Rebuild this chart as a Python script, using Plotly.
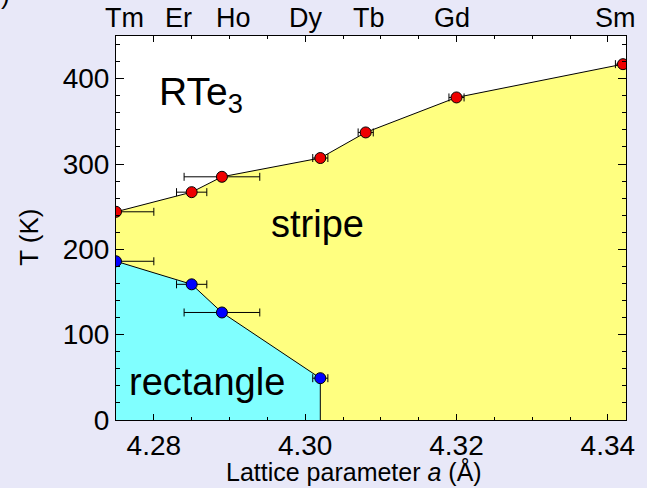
import plotly.graph_objects as go

# Rare-earth tritellurides RTe3: in-plane lattice parameter and CDW transition temperatures
rare_earth = ["Tm", "Er", "Ho", "Dy", "Tb", "Gd", "Sm"]
lattice_a = [4.275, 4.285, 4.289, 4.302, 4.308, 4.320, 4.342]
lattice_err = [0.005, 0.002, 0.005, 0.001, 0.001, 0.001, 0.001]
t_stripe = [244, 267, 285, 307, 337, 378, 417]      # upper transition (Tc1)
t_rect = [186, 159, 126, 49]                        # lower transition (Tc2), Tm..Dy
label_a = [4.2761, 4.2832, 4.2905, 4.3000, 4.3085, 4.3194, 4.3410]  # element label anchors

x_ticks = [4.28, 4.30, 4.32, 4.34]
y_ticks = [0, 100, 200, 300, 400]

A_MIN, A_MAX = 4.275, 4.3424
T_MAX = 450
FONT = "Liberation Sans, Arial, sans-serif"

n_rect = len(t_rect)

fig = go.Figure()

# stripe phase: everything below the upper transition line
fig.add_trace(go.Scatter(
    x=lattice_a + [A_MAX, A_MAX, A_MIN],
    y=t_stripe + [t_stripe[-1], 0, 0],
    fill="toself", fillcolor="#FFFF80", mode="none", hoverinfo="skip",
))

# rectangle phase: below the lower transition line, ending at Dy
fig.add_trace(go.Scatter(
    x=lattice_a[:n_rect] + [lattice_a[n_rect - 1], A_MIN],
    y=t_rect + [0, 0],
    fill="toself", fillcolor="#80FFFF", mode="none", hoverinfo="skip",
))

# phase boundaries
fig.add_trace(go.Scatter(
    x=lattice_a, y=t_stripe, mode="lines",
    line=dict(color="black", width=1), hoverinfo="skip",
))
fig.add_trace(go.Scatter(
    x=lattice_a[:n_rect] + [lattice_a[n_rect - 1]], y=t_rect + [0], mode="lines",
    line=dict(color="black", width=1), hoverinfo="skip",
))

# measured transitions with lattice-parameter uncertainty
err_style = dict(type="data", symmetric=True, color="black", thickness=1, width=4)
fig.add_trace(go.Scatter(
    x=lattice_a, y=t_stripe, mode="markers",
    marker=dict(size=11, color="#EE0000", line=dict(color="black", width=1)),
    error_x=dict(array=lattice_err, **err_style),
))
fig.add_trace(go.Scatter(
    x=lattice_a[:n_rect], y=t_rect, mode="markers",
    marker=dict(size=11, color="#0000FF", line=dict(color="black", width=1)),
    error_x=dict(array=lattice_err[:n_rect], **err_style),
))

annotations = []
# element names along the top
for name, xa in zip(rare_earth, label_a):
    annotations.append(dict(
        x=xa, xref="x", y=1.047, yref="paper", text=name, showarrow=False,
        xanchor="center", yanchor="middle", font=dict(size=27, color="black", family=FONT),
    ))

# phase labels
annotations += [
    dict(x=4.2804, y=381, xref="x", yref="y", text="RTe<sub>3</sub>", showarrow=False,
         xanchor="left", yanchor="middle", font=dict(size=39, color="black", family=FONT)),
    dict(x=4.2952, y=230, xref="x", yref="y", text="stripe", showarrow=False,
         xanchor="left", yanchor="middle", font=dict(size=38, color="black", family=FONT)),
    dict(x=4.2765, y=45, xref="x", yref="y", text="rectangle", showarrow=False,
         xanchor="left", yanchor="middle", font=dict(size=38, color="black", family=FONT)),
]

# axis titles
annotations += [
    dict(x=(356 - 116) / 515, y=-(471 - 420) / 384, xref="paper", yref="paper",
         text="Lattice parameter <i>a</i> (Å)", showarrow=False,
         xanchor="center", yanchor="middle", font=dict(size=25, color="black", family=FONT)),
    dict(x=-(116 - 28) / 515, y=(420 - 237) / 384, xref="paper", yref="paper",
         text="T (K)", textangle=-90, showarrow=False,
         xanchor="center", yanchor="middle", font=dict(size=26, color="black", family=FONT)),
    # panel tag, cut off at the page corner
    dict(x=-(116 - 4) / 515, y=(420 - 12) / 384, xref="paper", yref="paper",
         text=")", showarrow=False, xanchor="center", yanchor="bottom",
         font=dict(size=26, color="black", family=FONT)),
]

axis_common = dict(
    showline=True, linecolor="black", linewidth=1, mirror="ticks",
    showgrid=False, zeroline=False, ticks="inside", tickcolor="black", tickwidth=1,
    tickfont=dict(size=28, color="black", family=FONT),
)

fig.update_layout(
    width=647, height=488,
    margin=dict(l=116, r=16, t=36, b=68),
    paper_bgcolor="#E8E8F8", plot_bgcolor="white",
    showlegend=False,
    annotations=annotations,
    xaxis=dict(
        range=[A_MIN, A_MAX], tickvals=x_ticks, ticktext=[f"{v:.2f}" for v in x_ticks],
        ticklen=6,
        minor=dict(tick0=4.28, dtick=0.005, ticks="inside", ticklen=3,
                   tickcolor="black", showgrid=False),
        **axis_common,
    ),
    yaxis=dict(
        range=[0, T_MAX], tickvals=y_ticks, ticktext=[str(v) for v in y_ticks],
        ticklen=8,
        minor=dict(tick0=0, dtick=20, ticks="inside", ticklen=4,
                   tickcolor="black", showgrid=False),
        **axis_common,
    ),
)

fig.write_html("out.html")
